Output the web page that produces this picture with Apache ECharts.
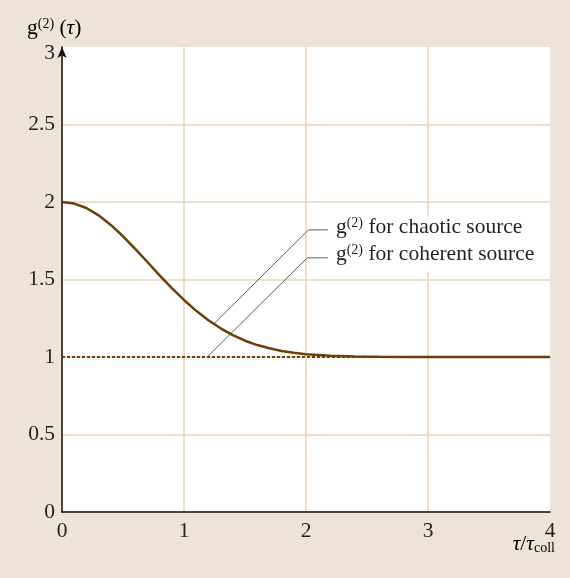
<!DOCTYPE html>
<html>
<head>
<meta charset="utf-8">
<script src="https://cdn.jsdelivr.net/npm/echarts@6/dist/echarts.min.js"></script>
<style>
html, body { margin: 0; padding: 0; background: #ede3d7; }
#chart { width: 570px; height: 578px; }
</style>
</head>
<body>
<div id="chart"></div>
<script>
// values
var tauValues = [0, 0.1, 0.2, 0.3, 0.4, 0.5, 0.6, 0.7, 0.8, 0.9, 1.0, 1.1, 1.2, 1.3, 1.4, 1.5,
    1.6, 1.7, 1.8, 1.9, 2.0, 2.2, 2.4, 2.6, 2.8, 3.0, 3.5, 4.0];
var chaoticValues = [2.000, 1.990, 1.961, 1.914, 1.852, 1.779, 1.698, 1.613, 1.527, 1.445, 1.368,
    1.298, 1.237, 1.185, 1.141, 1.105, 1.077, 1.056, 1.039, 1.027, 1.018, 1.008, 1.003, 1.001,
    1.000, 1.000, 1.000, 1.000];
var coherentTau = [0, 4];
var coherentValues = [1, 1];

var chaoticLeaderX = [1.24, 2.02, 2.18];
var chaoticLeaderY = [1.21, 1.82, 1.82];
var coherentLeaderX = [1.19, 2.01, 2.18];
var coherentLeaderY = [1.0, 1.64, 1.64];

var yTicks = ['0', '0.5', '1', '1.5', '2', '2.5', '3'];
var xTicks = ['0', '1', '2', '3', '4'];

var serif = '"Liberation Serif", "DejaVu Serif", serif';
var txt = '#231f20';
var gridCol = '#e9d3ba';
var curveCol = '#6b3f0c';

function pairs(xs, ys) {
    var out = [];
    for (var i = 0; i < xs.length; i++) out.push([xs[i], ys[i]]);
    return out;
}

var richText = {
    g: { fontFamily: serif, fontSize: 21.5, color: txt },
    i: { fontFamily: serif, fontSize: 21.5, fontStyle: 'italic', color: txt },
    s: { fontFamily: serif, fontSize: 14, color: txt, verticalAlign: 'top', padding: [0, 0, 8, 0] },
    t: { fontFamily: serif, fontSize: 21.5, color: txt },
    sub: { fontFamily: serif, fontSize: 14, color: txt, verticalAlign: 'bottom', padding: [6, 0, 0, 0] }
};

function leaderSeries(xs, ys, text) {
    var d = pairs(xs, ys);
    var last = d.pop();
    d.push({
        value: last,
        label: {
            show: true,
            position: 'right',
            distance: 4,
            formatter: '{g|g}{s|(2)}{t| for ' + text + '}',
            backgroundColor: '#fff',
            padding: [0, 4, 6, 4],
            rich: richText
        }
    });
    return {
        type: 'line',
        data: d,
        symbol: 'circle',
        symbolSize: 0,
        showSymbol: true,
        silent: true,
        z: 1,
        lineStyle: { color: '#333', width: 0.8 }
    };
}

var dom = document.getElementById('chart');
var myChart = echarts.init(dom);

var option = {
    backgroundColor: '#ede3d7',
    animation: false,
    grid: {
        left: 62, right: 20, top: 47, bottom: 66,
        outerBoundsMode: 'none',
        containLabel: false,
        show: true, backgroundColor: '#fff', borderWidth: 0
    },
    // axis titles placed as in the figure
    graphic: [{
        type: 'text',
        right: 15,
        top: 533,
        style: { text: '{i|τ}{t|/}{i|τ}{sub|coll}', rich: richText }
    }, {
        type: 'text',
        left: 27,
        top: 17,
        style: { text: '{g|g}{s|(2)}{t| (}{i|τ}{t|)}', rich: richText }
    }],
    xAxis: {
        type: 'value',
        min: 0, max: 4, interval: 1,
        axisLine: { show: true, onZero: false, lineStyle: { color: '#111', width: 1.5 } },
        axisTick: { show: false },
        axisLabel: {
            margin: 8, fontFamily: serif, fontSize: 21.5, color: txt,
            formatter: function (v) { return xTicks[Math.round(v)]; }
        },
        splitLine: {
            show: true,
            lineStyle: { color: [gridCol, gridCol, gridCol, gridCol, 'transparent'], width: 1.5 }
        }
    },
    yAxis: {
        type: 'value',
        min: 0, max: 3, interval: 0.5,
        axisLine: {
            show: true, onZero: false,
            symbol: ['none', 'arrow'], symbolSize: [7, 11], symbolOffset: [0, 0],
            lineStyle: { color: '#111', width: 1.5 }
        },
        axisTick: { show: false },
        axisLabel: {
            margin: 7, fontFamily: serif, fontSize: 21.5, color: txt,
            formatter: function (v) {
                var idx = Math.round(v * 2);
                // top label sits a little lower, under the arrow head
                return idx === yTicks.length - 1 ? '{m|' + yTicks[idx] + '}' : yTicks[idx];
            },
            rich: { m: { fontFamily: serif, fontSize: 21.5, color: txt, padding: [12, 0, 0, 0] } }
        },
        splitLine: {
            show: true,
            lineStyle: {
                color: [gridCol, gridCol, gridCol, gridCol, gridCol, gridCol, 'transparent'],
                width: 1.5
            }
        }
    },
    series: [
        leaderSeries(chaoticLeaderX, chaoticLeaderY, 'chaotic source'),
        leaderSeries(coherentLeaderX, coherentLeaderY, 'coherent source'),
        {
            type: 'line',
            data: pairs(coherentTau, coherentValues),
            showSymbol: false,
            z: 2,
            lineStyle: { color: curveCol, width: 2, type: [3, 2] }
        },
        {
            type: 'line',
            data: pairs(tauValues, chaoticValues),
            smooth: false,
            showSymbol: false,
            z: 3,
            lineStyle: { color: curveCol, width: 2.5, type: 'solid' }
        }
    ]
};

if (option && typeof option === 'object') {
    myChart.setOption(option, true);
}
</script>
</body>
</html>
